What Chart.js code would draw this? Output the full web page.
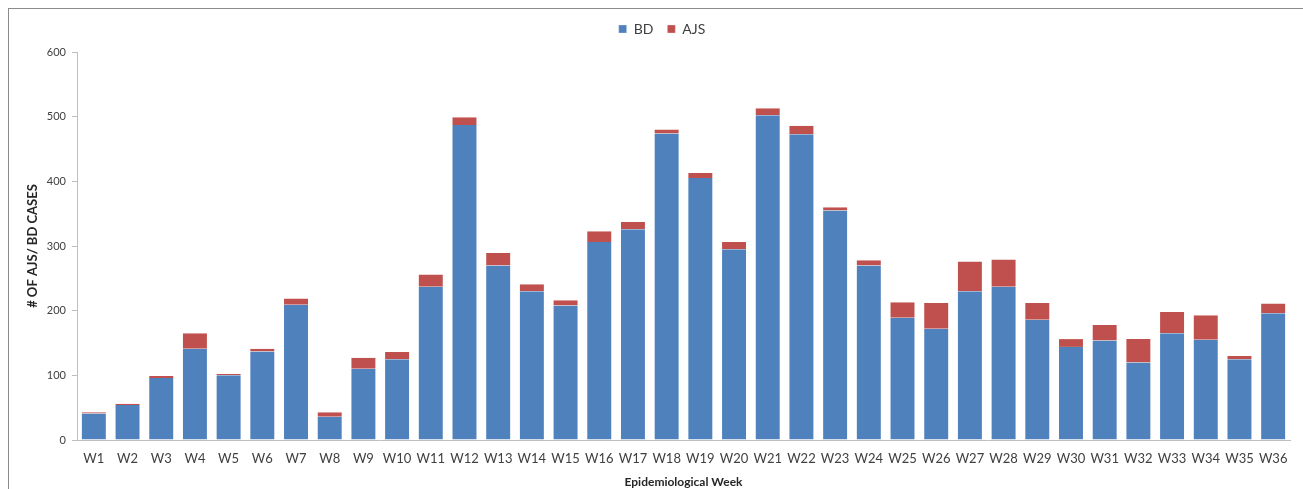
<!DOCTYPE html>
<html>
<head>
<meta charset="utf-8">
<script src="https://cdn.jsdelivr.net/npm/chart.js@4/dist/chart.umd.min.js"></script>
<style>
    html, body { margin: 0; padding: 0; background: #fff; overflow: hidden; }
    .frame { position: absolute; left: 8px; top: 8px; width: 1400px; height: 600px; border: 1px solid #8c8c8c; }
    .chart-box { position: absolute; left: 0; top: 0; width: 1303px; height: 489px; }
</style>
</head>
<body>
<div class="frame"></div>
<div class="chart-box"><canvas id="weekChart"></canvas></div>
<script>
const weeks = ['W1', 'W2', 'W3', 'W4', 'W5', 'W6', 'W7', 'W8', 'W9', 'W10', 'W11', 'W12',
    'W13', 'W14', 'W15', 'W16', 'W17', 'W18', 'W19', 'W20', 'W21', 'W22', 'W23', 'W24',
    'W25', 'W26', 'W27', 'W28', 'W29', 'W30', 'W31', 'W32', 'W33', 'W34', 'W35', 'W36'];
const bdCases = [41, 54, 96, 141, 100, 137, 209, 36, 110, 125, 237, 487,
    270, 230, 208, 306, 326, 474, 405, 295, 502, 473, 355, 270,
    189, 172, 230, 237, 186, 144, 154, 120, 165, 155, 125, 196];
const ajsCases = [2, 2, 3, 24, 2, 4, 10, 7, 17, 11, 19, 12,
    19, 11, 8, 17, 11, 6, 8, 11, 11, 13, 5, 8,
    24, 40, 46, 42, 26, 12, 24, 36, 33, 38, 5, 15];
const yTicks = [0, 100, 200, 300, 400, 500, 600];

const fontFamily = 'Lato, "Open Sans", sans-serif';

// 범례 위치 조정: 아래 여백 추가 + 조금 오른쪽으로 이동
const legendShift = {
    id: 'legendShift',
    beforeLayout: chart => {
        const lg = chart.legend;
        if (lg && !lg._patched) {
            const fit = lg.fit.bind(lg);
            lg.fit = () => { fit(); lg.height += 6; };
            lg._patched = true;
        }
    },
    afterLayout: chart => { chart.legend.left += 24; }
};

const barEdge = { left: 1, right: 1, top: 0, bottom: 0 };

// 막대 그래프 그리기
const ctx = document.getElementById('weekChart').getContext('2d');
new Chart(ctx, {
    type: 'bar',
    data: {
        labels: weeks,
        datasets: [{
            label: 'BD',
            data: bdCases,
            backgroundColor: '#4F81BD',
            borderColor: 'rgba(255,255,255,0.6)',
            borderWidth: barEdge,
            borderSkipped: false,
            categoryPercentage: 1,
            barPercentage: 0.77
        }, {
            label: 'AJS',
            data: ajsCases,
            backgroundColor: '#C0504D',
            borderColor: 'rgba(255,255,255,0.6)',
            borderWidth: barEdge,
            borderSkipped: false,
            categoryPercentage: 1,
            barPercentage: 0.77
        }]
    },
    options: {
        responsive: true,
        maintainAspectRatio: false,
        animation: false,
        layout: { padding: { left: 10, right: 13, top: 8, bottom: 0 } },
        plugins: {
            legend: {
                position: 'top',
                labels: {
                    boxWidth: 8,
                    boxHeight: 8,
                    padding: 14,
                    color: '#404040',
                    font: { family: fontFamily, size: 14 }
                }
            },
            tooltip: { enabled: false }
        },
        scales: {
            x: {
                stacked: true,
                grid: { display: false, drawTicks: false },
                border: { display: true, color: '#bfbfbf' },
                ticks: {
                    color: '#404040',
                    padding: 11,
                    maxRotation: 0,
                    autoSkip: false,
                    font: { family: fontFamily, size: 13 }
                },
                title: {
                    display: true,
                    text: 'Epidemiological Week',
                    color: '#262626',
                    padding: { top: 0, bottom: 0 },
                    font: { family: fontFamily, size: 12, weight: 'bold' }
                },
                afterFit: scale => { scale.height = 49; }
            },
            y: {
                stacked: true,
                min: 0,
                max: 600,
                afterBuildTicks: scale => { scale.ticks = yTicks.map(v => ({ value: v })); },
                grid: { drawOnChartArea: false, drawTicks: true, tickLength: 5, color: '#bfbfbf' },
                border: { display: true, color: '#bfbfbf' },
                ticks: {
                    color: '#404040',
                    padding: 6,
                    font: { family: fontFamily, size: 11 }
                },
                title: {
                    display: true,
                    text: '# OF AJS/ BD CASES',
                    color: '#262626',
                    padding: { top: 15, bottom: 0 },
                    font: { family: fontFamily, size: 13, weight: 'bold' }
                },
                afterFit: scale => { scale.width = 67; }
            }
        }
    },
    plugins: [legendShift]
});
</script>
</body>
</html>
